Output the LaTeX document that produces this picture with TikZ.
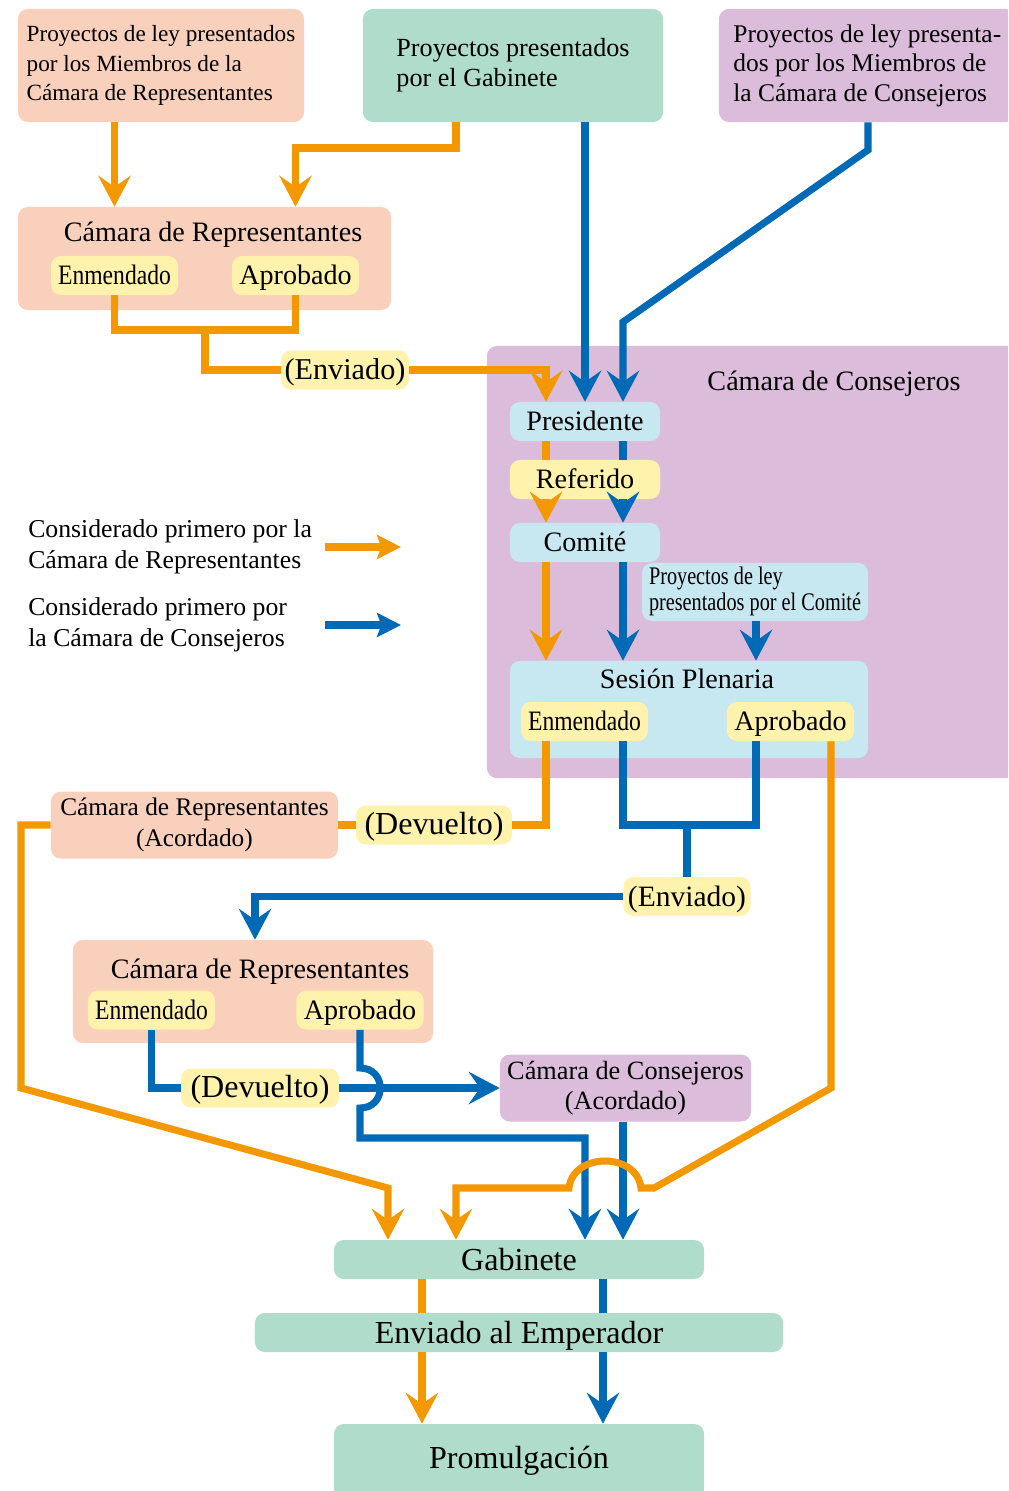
\documentclass[tikz,border=0pt]{standalone}
\usepackage{fontspec}
\setmainfont{Liberation Serif}
\usetikzlibrary{arrows.meta}

\definecolor{orangeline}{HTML}{F39800}
\definecolor{blueline}{HTML}{006AB6}
\definecolor{repfill}{HTML}{F8D0BB}
\definecolor{cabfill}{HTML}{B0DCCC}
\definecolor{coufill}{HTML}{DBBDDB}
\definecolor{stagefill}{HTML}{C7E7F1}
\definecolor{tagfill}{HTML}{FFF2AD}

\begin{document}
\begin{tikzpicture}[x=0.025cm, y=-0.025cm,
        box/.style={rounded corners=7pt, inner sep=0pt, align=center},
        rep/.style={box, fill=repfill},
        cab/.style={box, fill=cabfill},
        cou/.style={box, fill=coufill},
        stage/.style={box, fill=stagefill, minimum width=3.75cm, minimum height=0.975cm, text height=14pt, text depth=1pt, font=\fontsize{20}{24}\selectfont},
        tag/.style={box, fill=tagfill, minimum width=3.175cm, minimum height=0.975cm, text height=14pt, text depth=1pt, font=\fontsize{20}{24}\selectfont},
        status/.style={box, fill=tagfill, minimum height=0.975cm, text height=15pt, text depth=1pt},
        final/.style={box, fill=cabfill, minimum width=9.25cm, minimum height=0.975cm, text height=16pt, text depth=1pt, font=\fontsize{22.8}{27}\selectfont},
        heading/.style={inner sep=0pt, anchor=base, font=\fontsize{20}{24}\selectfont},
        legend/.style={anchor=west, align=left, inner sep=0pt, font=\fontsize{18.3}{22}\selectfont},
        oline/.style={draw=orangeline, line width=5pt},
        bline/.style={draw=blueline, line width=5pt},
        bigtip/.style={-{Stealth[length=22pt, width=23pt, inset=8pt]}},
        smalltip/.style={-{Stealth[length=17pt, width=17pt, inset=3pt]}}
    ]
        \clip (0,0) rectangle (1008,1491);

        % Define the nodes: where the bills come from
        \node[rep, minimum width=7.15cm, minimum height=2.825cm, align=left, font=\fontsize{16.5}{20.8}\selectfont] (repbills) at (161,65.5) {Proyectos de ley presentados\\por los Miembros de la\\Cámara de Representantes};
        \node[cab, minimum width=7.5cm, minimum height=2.825cm, align=left, font=\fontsize{18.6}{21.3}\selectfont] (cabbills) at (513,65.5) {Proyectos presentados\\por el Gabinete};
        \node[cou, minimum width=7.415cm, minimum height=2.825cm, align=left, font=\fontsize{18.1}{21}\selectfont] (coubills) at (867.3,65.5) {Proyectos de ley presenta-\\dos por los Miembros de\\la Cámara de Consejeros};

        % House of Representatives
        \node[rep, minimum width=9.325cm, minimum height=2.575cm] (repchamber) at (204.5,258.5) {};
        \node[heading] (repchambertitle) at (213,241) {Cámara de Representantes};
        \node[tag] (repamend) at (114.5,275.5) {\scalebox{0.84}[1]{Enmendado}};
        \node[tag] (reppass) at (295.5,275.5) {Aprobado};
        \coordinate (repjoin) at (205,330);
        \node[status, minimum width=3.2cm, font=\fontsize{21.5}{26}\selectfont] (sent1) at (345,370) {(Enviado)};

        % House of Councillors
        \node[cou, minimum width=13.575cm, minimum height=10.8cm] (council) at (758.5,562) {};
        \node[heading] (counciltitle) at (834,390) {Cámara de Consejeros};
        \node[stage] (pres) at (585,421.5) {Presidente};
        \node[stage, fill=tagfill] (ref) at (585,479.5) {Referido};
        \node[stage] (comm) at (585,542.5) {Comité};
        \node[box, fill=stagefill, minimum width=5.65cm, minimum height=1.45cm, font=\fontsize{18}{18.5}\selectfont] (commbills) at (755,592) {\scalebox{0.8}[1]{\begin{tabular}{@{}l@{}}Proyectos de ley\\presentados por el Comité\end{tabular}}};
        \node[stage, minimum width=8.95cm, minimum height=2.425cm] (plenary) at (689,709.5) {};
        \node[heading] (plenarytitle) at (687,688) {Sesión Plenaria};
        \node[tag] (plenamend) at (584.5,721.5) {\scalebox{0.84}[1]{Enmendado}};
        \node[tag] (plenpass) at (790.5,721.5) {Aprobado};

        % Returned and sent on
        \node[status, minimum width=3.9cm, font=\fontsize{22.8}{27}\selectfont] (returned1) at (434,825) {(Devuelto)};
        \node[rep, minimum width=7.175cm, minimum height=1.675cm, font=\fontsize{18}{21.5}\selectfont] (repagreed) at (194.5,825) {Cámara de Representantes\\(Acordado)};
        \coordinate (counciljoin) at (687,825);
        \node[status, minimum width=3.175cm, font=\fontsize{21}{25}\selectfont] (sent2) at (687,896.5) {(Enviado)};

        % House of Representatives, second time
        \node[rep, minimum width=9cm, minimum height=2.575cm] (repchamber2) at (253,991.5) {};
        \node[heading] (repchamber2title) at (260,978) {Cámara de Representantes};
        \node[tag] (rep2amend) at (151.5,1010) {\scalebox{0.84}[1]{Enmendado}};
        \node[tag] (rep2pass) at (360,1010) {Aprobado};
        \node[status, minimum width=3.95cm, font=\fontsize{22.8}{27}\selectfont] (returned2) at (260,1088) {(Devuelto)};
        \node[cou, minimum width=6.275cm, minimum height=1.675cm, font=\fontsize{18.7}{21.5}\selectfont] (couagreed) at (625.5,1088) {Cámara de Consejeros\\(Acordado)};

        % Cabinet, Emperor, promulgation
        \node[final] (gab) at (519,1259.5) {Gabinete};
        \node[final, minimum width=13.2cm] (emp) at (519,1332.5) {Enviado al Emperador};
        \node[final, minimum height=1.85cm, text depth=6pt] (prom) at (519,1461) {Promulgación};

        % Legend
        \node[legend] (legrep) at (28,547) {Considerado primero por la\\Cámara de Representantes};
        \node[legend] (legcou) at (28,625) {Considerado primero por\\la Cámara de Consejeros};
        \coordinate (legrepa) at (325,547);
        \coordinate (legrepb) at (401,547);
        \coordinate (legcoua) at (325,625);
        \coordinate (legcoub) at (401,625);
        \draw [oline, smalltip] (legrepa) -- (legrepb);
        \draw [bline, smalltip] (legcoua) -- (legcoub);

        % Blue path: considered first by the Councillors
        \draw [bline, bigtip] (cabbills.south -| pres) -- (pres.north);
        \draw [bline, bigtip] (coubills.south -| 868,0) -- (868,150) -- (623,322) -- (pres.north -| 623,0);
        \draw [bline] (pres.south -| 623,0) -- (ref.north -| 623,0);
        \draw [bline, bigtip] (ref.south -| 623,0) -- (comm.north -| 623,0);
        \draw [bline, bigtip] (comm.south -| 623,0) -- (plenary.north -| 623,0);
        \draw [bline, bigtip] (commbills.south -| 756,0) -- (plenary.north -| 756,0);
        \draw [bline] (plenamend.south -| 623,0) -- (623,825) -| (plenpass.south -| 756,0);
        \draw [bline] (counciljoin) -- (sent2.north);
        \draw [bline, bigtip] (sent2.west) -| (repchamber2.north -| 255,0);
        \draw [bline] (rep2amend.south) |- (returned2.west);
        \draw [bline, bigtip] (returned2.east) -- (couagreed.west);
        \draw [bline, bigtip] (rep2pass.south) -- (360,1068) .. controls (387,1068) and (387,1108) .. (360,1108) -- (360,1138) -| (gab.north -| 585,0);
        \draw [bline, bigtip] (couagreed.south -| 623,0) -- (gab.north -| 623,0);
        \draw [bline] (gab.south -| 603,0) -- (emp.north -| 603,0);
        \draw [bline, bigtip] (emp.south -| 603,0) -- (prom.north -| 603,0);

        % Orange path: considered first by the Representatives
        \draw [oline, bigtip] (repbills.south -| repamend) -- (repchamber.north -| repamend);
        \draw [oline, bigtip] (cabbills.south -| 456,0) -- (456,148) -| (repchamber.north -| reppass);
        \draw [oline] (repamend.south) -- (repamend.south |- repjoin) -| (reppass.south);
        \draw [oline] (repjoin) |- (sent1.west);
        \draw [oline, bigtip] (sent1.east) -| (pres.north -| 546,0);
        \draw [oline] (pres.south -| 546,0) -- (ref.north -| 546,0);
        \draw [oline, bigtip] (ref.south -| 546,0) -- (comm.north -| 546,0);
        \draw [oline, bigtip] (comm.south -| 546,0) -- (plenary.north -| 546,0);
        \draw [oline] (plenamend.south -| 546,0) |- (returned1.east);
        \draw [oline] (returned1.west) -- (repagreed.east);
        \draw [oline, bigtip] (repagreed.west) -- (21,825) -- (21,1088) -- (388,1188) -- (gab.north -| 388,0);
        \draw [oline, bigtip] (plenpass.south -| 831,0) -- (831,1088) -- (654,1188) -- (641,1188) .. controls (637,1152) and (573,1152) .. (569,1188) -- (456,1188) -- (gab.north -| 456,0);
        \draw [oline] (gab.south -| 422,0) -- (emp.north -| 422,0);
        \draw [oline, bigtip] (emp.south -| 422,0) -- (prom.north -| 422,0);
    \end{tikzpicture}
\end{document}
